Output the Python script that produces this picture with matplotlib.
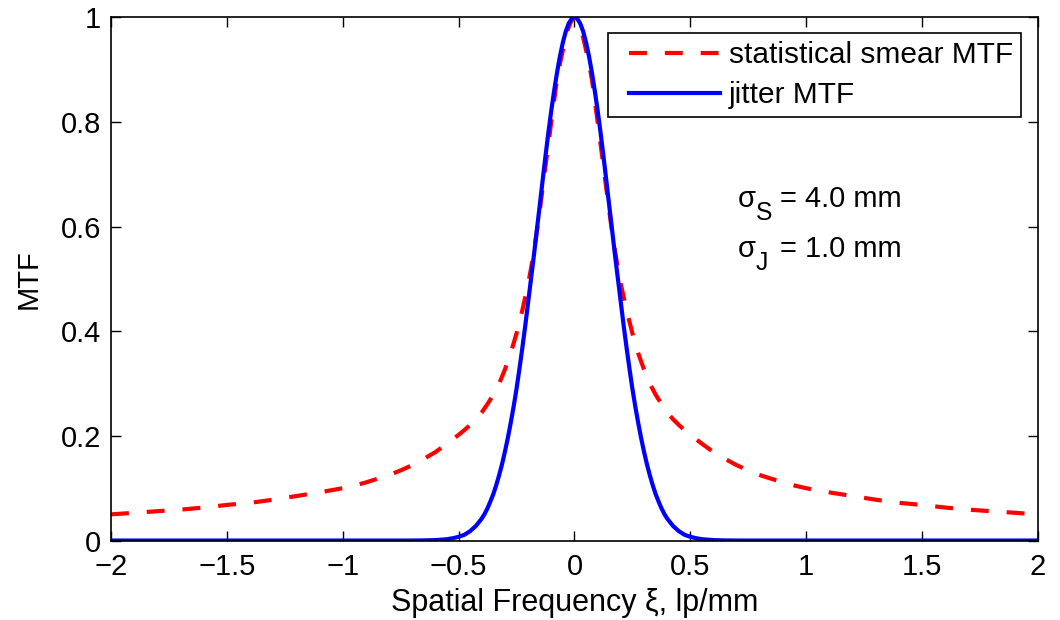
import matplotlib
matplotlib.use("Agg")
import matplotlib.pyplot as plt
from matplotlib.legend_handler import HandlerLine2D

plt.rcParams['font.family'] = ['Liberation Sans', 'DejaVu Sans']
plt.rcParams['axes.unicode_minus'] = True

# spatial frequency (lp/mm) and MTF values
smear_x = [-2.0, -1.9, -1.8, -1.7, -1.6, -1.5, -1.4, -1.3, -1.2, -1.1, -1.0,
           -0.95, -0.9, -0.85, -0.8, -0.75, -0.7, -0.65, -0.6, -0.55, -0.5,
           -0.475, -0.45, -0.425, -0.4, -0.375, -0.35, -0.325, -0.3, -0.275, -0.25,
           -0.2375, -0.225, -0.2125, -0.2, -0.1875, -0.175, -0.1625, -0.15, -0.1375,
           -0.125, -0.1125, -0.1, -0.0875, -0.075, -0.0625, -0.05, -0.04, -0.03, -0.015,
           0.0,
           0.015, 0.03, 0.04, 0.05, 0.0625, 0.075, 0.0875, 0.1, 0.1125, 0.125,
           0.1375, 0.15, 0.1625, 0.175, 0.1875, 0.2, 0.2125, 0.225, 0.2375,
           0.25, 0.275, 0.3, 0.325, 0.35, 0.375, 0.4, 0.425, 0.45, 0.475,
           0.5, 0.55, 0.6, 0.65, 0.7, 0.75, 0.8, 0.85, 0.9, 0.95,
           1.0, 1.1, 1.2, 1.3, 1.4, 1.5, 1.6, 1.7, 1.8, 1.9, 2.0]
smear_mtf = [0.050, 0.053, 0.056, 0.059, 0.063, 0.068, 0.072, 0.078, 0.085, 0.092, 0.100,
             0.105, 0.111, 0.118, 0.125, 0.134, 0.144, 0.156, 0.169, 0.185, 0.202,
             0.211, 0.221, 0.232, 0.245, 0.261, 0.279, 0.300, 0.327, 0.358, 0.396,
             0.418, 0.440, 0.465, 0.490, 0.520, 0.553, 0.590, 0.630, 0.673,
             0.716, 0.758, 0.800, 0.842, 0.882, 0.912, 0.937, 0.957, 0.975, 0.992,
             1.0,
             0.992, 0.975, 0.957, 0.937, 0.912, 0.882, 0.842, 0.800, 0.758, 0.716,
             0.673, 0.630, 0.590, 0.553, 0.520, 0.490, 0.465, 0.440, 0.418,
             0.396, 0.358, 0.327, 0.300, 0.279, 0.261, 0.245, 0.232, 0.221, 0.211,
             0.202, 0.185, 0.169, 0.156, 0.144, 0.134, 0.125, 0.118, 0.111, 0.105,
             0.100, 0.092, 0.085, 0.078, 0.072, 0.068, 0.063, 0.059, 0.056, 0.053, 0.050]

jitter_x = [-2.0, -1.5, -1.0, -0.7, -0.65, -0.6, -0.55, -0.525, -0.5,
            -0.475, -0.45, -0.425, -0.4, -0.3875, -0.375, -0.3625, -0.35, -0.3375,
            -0.325, -0.3125, -0.3, -0.2875, -0.275, -0.2625, -0.25, -0.2375, -0.225,
            -0.2125, -0.2, -0.1875, -0.175, -0.1625, -0.15, -0.1375, -0.125, -0.1125,
            -0.1, -0.0875, -0.075, -0.0625, -0.05, -0.0375, -0.025, -0.0125,
            0.0,
            0.0125, 0.025, 0.0375, 0.05, 0.0625, 0.075, 0.0875, 0.1,
            0.1125, 0.125, 0.1375, 0.15, 0.1625, 0.175, 0.1875, 0.2, 0.2125,
            0.225, 0.2375, 0.25, 0.2625, 0.275, 0.2875, 0.3, 0.3125, 0.325,
            0.3375, 0.35, 0.3625, 0.375, 0.3875, 0.4, 0.425, 0.45, 0.475,
            0.5, 0.525, 0.55, 0.6, 0.65, 0.7, 1.0, 1.5, 2.0]
jitter_mtf = [0.0, 0.0, 0.0, 0.0, 0.0002, 0.0008, 0.0025, 0.0044, 0.007,
              0.011, 0.018, 0.028, 0.042, 0.051, 0.062, 0.075, 0.089, 0.106,
              0.125, 0.146, 0.170, 0.196, 0.225, 0.256, 0.290, 0.328, 0.368,
              0.410, 0.455, 0.500, 0.545, 0.593, 0.640, 0.688, 0.735, 0.780,
              0.822, 0.860, 0.895, 0.926, 0.952, 0.973, 0.988, 0.997,
              1.0,
              0.997, 0.988, 0.973, 0.952, 0.926, 0.895, 0.860, 0.822,
              0.780, 0.735, 0.688, 0.640, 0.593, 0.545, 0.500, 0.455, 0.410,
              0.368, 0.328, 0.290, 0.256, 0.225, 0.196, 0.170, 0.146, 0.125,
              0.106, 0.089, 0.075, 0.062, 0.051, 0.042, 0.028, 0.018, 0.011,
              0.007, 0.0044, 0.0025, 0.0008, 0.0002, 0.0, 0.0, 0.0, 0.0]

x_ticks = [-2, -1.5, -1, -0.5, 0, 0.5, 1, 1.5, 2]
x_tick_labels = ["\u22122", "\u22121.5", "\u22121", "\u22120.5", "0", "0.5", "1", "1.5", "2"]
y_ticks = [0, 0.2, 0.4, 0.6, 0.8, 1]
y_tick_labels = ["0", "0.2", "0.4", "0.6", "0.8", "1"]

fs = 21

fig = plt.figure(figsize=(10.6, 6.2), dpi=100)
ax = fig.add_axes([0.1047, 0.1282, 0.8745, 0.8439])

ax.plot(smear_x, smear_mtf, color='#ff0000', lw=3.0, dashes=(4.3, 4.3),
        label='statistical smear MTF')
ax.plot(jitter_x, jitter_mtf, color='#0000ff', lw=3.0, label='jitter MTF')

ax.set_xlim(-2, 2)
ax.set_ylim(0, 1)
ax.set_xticks(x_ticks)
ax.set_xticklabels(x_tick_labels, fontsize=fs)
ax.set_yticks(y_ticks)
ax.set_yticklabels(y_tick_labels, fontsize=fs)
ax.tick_params(direction='in', length=7, width=1, top=True, right=True)
ax.tick_params(axis='x', pad=9)
ax.tick_params(axis='y', pad=7)
for sp in ax.spines.values():
    sp.set_linewidth(1.2)

ax.set_xlabel('Spatial Frequency \u03be, lp/mm', fontsize=22, labelpad=5)
ax.set_ylabel('MTF', fontsize=fs, labelpad=13.5)

# sigma annotations, subscripts drawn as separate smaller text
for sym, sub, rest, y in [('\u03c3', 'S', '= 4.0 mm', 0.637),
                          ('\u03c3', 'J', '= 1.0 mm', 0.542)]:
    ax.annotate(sym, (0.704, y), fontsize=fs, va='baseline')
    ax.annotate(sub, (0.704, y), xytext=(18, -13), textcoords='offset pixels',
                fontsize=fs * 0.85, va='baseline')
    ax.annotate(rest, (0.704, y), xytext=(42, 0), textcoords='offset pixels',
                fontsize=fs, va='baseline')

hmap = {ln: HandlerLine2D(xpad=0.435) for ln in ax.get_lines()}
leg = ax.legend(loc='upper right', bbox_to_anchor=(0.9817, 0.970), borderaxespad=0,
                fontsize=21.5, fancybox=False, framealpha=1, edgecolor='black',
                handlelength=3.48, handletextpad=0.3, labelspacing=0.405,
                borderpad=0.27, handler_map=hmap)
leg.get_frame().set_linewidth(1.2)

fig.savefig('out.png', dpi=100, facecolor='white')
